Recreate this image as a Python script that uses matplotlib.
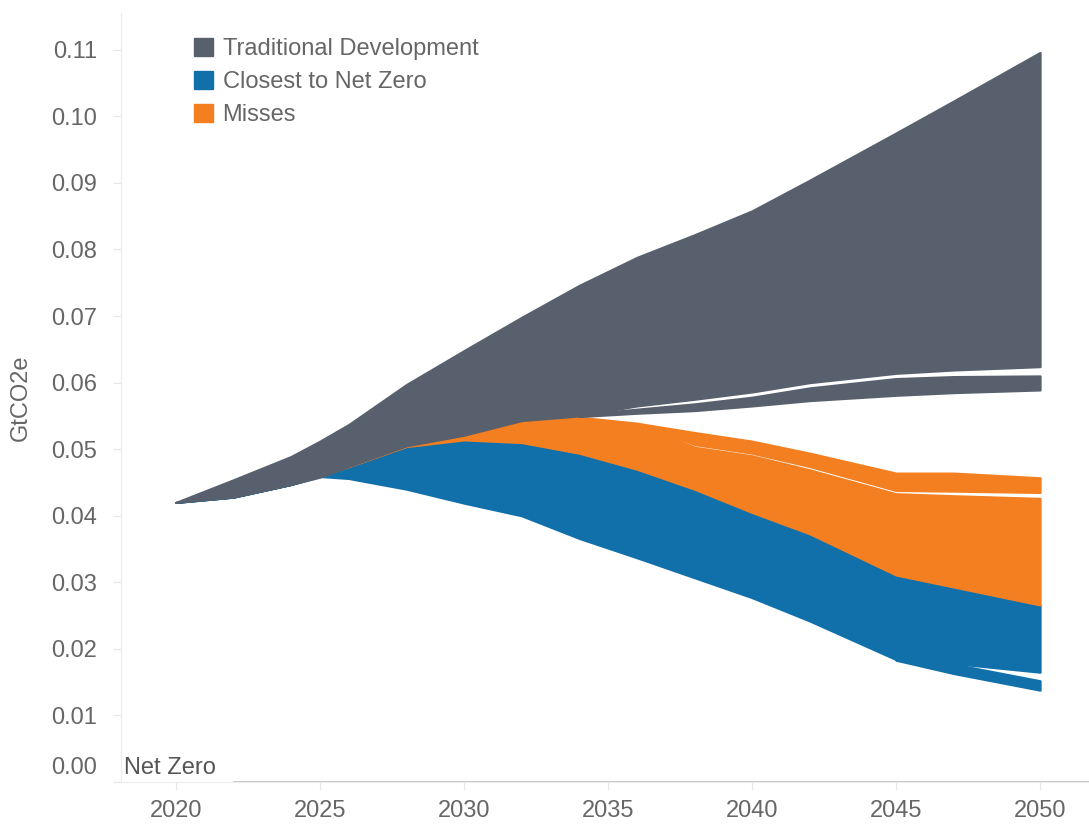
import numpy as np
import matplotlib
matplotlib.use("Agg")
import matplotlib.pyplot as plt
from matplotlib.patches import Patch

plt.rcParams['font.family'] = ['Liberation Sans', 'DejaVu Sans']

# --- data (GtCO2e) ---
nan = np.nan
YEARS = [2020, 2022, 2024, 2025, 2026, 2028, 2030, 2032, 2034, 2036, 2038, 2040, 2042, 2045, 2047, 2050]

# Traditional Development: main envelope + lower cluster of runs
trad_top = [.0420, .0454, .0489, .0512, .0537, .0597, .0648, .0698, .0746, .0788, .0822, .0858, .0904, .0975, .1023, .1096]
trad_bottom = [.0420, .0428, .0447, .0458, .0474, .0505, .0521, .0543, .0550, .0565, .0575, .0586, .0600, .0614, .0619, .0624]
trad_low_top = [nan] * 8 + [.0552, .0560, .0568, .0578, .0592, .0606, .0609, .0610]
trad_low_bottom = [nan] * 8 + [.0549, .0554, .0558, .0565, .0573, .0581, .0585, .0589]

# Closest to Net Zero
close_top = [.0420, .0428, .0447, .0460, .0474, .0504, .0514, .0510, .0494, .0470, .0440, .0405, .0373, .0311, .0293, .0266]
close_bottom = [.0420, .0428, .0447, .0459, .0456, .0440, .0419, .0400, .0366, .0337, .0307, .0277, .0242, .0184, .0178, .0165]
close_low_top = [nan] * 13 + [.0184, .0177, .0152]
close_low_bottom = [nan] * 13 + [.0183, .0163, .0138]

# Misses
miss_top = [nan] * 3 + [.0460, .0474, .0505, .0521, .0541, .0548, .0539, .0525, .0512, .0494, .0464, .0464, .0457]
miss_split_hi = [nan] * 9 + [.0539, .0507, .0494, .0474, .0438, .0437, .0435]
miss_split_lo = [nan] * 9 + [.0539, .0503, .0490, .0469, .0433, .0430, .0426]

YTICKS = [0.00, 0.01, 0.02, 0.03, 0.04, 0.05, 0.06, 0.07, 0.08, 0.09, 0.10, 0.11]
XTICKS = [2020, 2025, 2030, 2035, 2040, 2045, 2050]

GREY = '#57606c'
BLUE = '#1170aa'
ORANGE = '#f47f20'
TEXT = '#666666'
FS = 17


def band(ax, lo, hi, color):
    lo = np.array(lo, dtype=float)
    hi = np.array(hi, dtype=float)
    ok = ~np.isnan(lo) & ~np.isnan(hi)
    ax.fill_between(np.array(YEARS)[ok], lo[ok], hi[ok], facecolor=color,
                    edgecolor=color, linewidth=1.6, joinstyle='round')


fig = plt.figure(figsize=(10.89, 8.24), dpi=100)
ax = fig.add_axes([0.111, 0.051, 0.889, 0.933])

# blue first, then orange, grey on top
band(ax, close_bottom, close_top, BLUE)
band(ax, close_low_bottom, close_low_top, BLUE)

miss_main_top = [a if np.isnan(b) else b for a, b in zip(miss_top, miss_split_lo)]
band(ax, close_top, miss_main_top, ORANGE)
band(ax, miss_split_hi, miss_top, ORANGE)

band(ax, trad_bottom, trad_top, GREY)
band(ax, trad_low_bottom, trad_low_top, GREY)

ax.set_xlim(2018.09, 2051.7)
ax.set_ylim(0, 0.1155)

ax.set_yticks(YTICKS)
ax.set_yticklabels([''] + ['%.2f' % v for v in YTICKS[1:]])
ax.set_xticks(XTICKS)
ax.set_xticklabels([str(y) for y in XTICKS])
ax.tick_params(axis='y', length=6, color='#e6e6e6', labelcolor=TEXT, labelsize=FS, pad=11)
ax.tick_params(axis='x', length=6, color='#e6e6e6', labelcolor=TEXT, labelsize=FS, pad=7)

# 0.00 sits a little above its tick
ax.annotate('0.00', xy=(0, 0), xycoords=('axes fraction', 'data'),
            xytext=(-17, 2), textcoords='offset points', ha='right', va='bottom',
            color=TEXT, fontsize=FS, annotation_clip=False)

for s in ['top', 'right']:
    ax.spines[s].set_visible(False)
ax.spines['left'].set_color('#ececec')
ax.spines['bottom'].set_color('#ececec')

# net zero reference line
x0, x1 = ax.get_xlim()
ax.axhline(0, xmin=(2022 - x0) / (x1 - x0), xmax=1, color='#bdbdbd', lw=1.2, clip_on=False)
ax.text(2018.2, 0.0004, 'Net Zero', color='#555555', fontsize=FS, va='bottom', ha='left')

ax.set_ylabel('GtCO2e', color=TEXT, fontsize=FS, labelpad=14)

handles = [Patch(color=GREY), Patch(color=BLUE), Patch(color=ORANGE)]
ax.legend(handles, ['Traditional Development', 'Closest to Net Zero', 'Misses'],
          loc='upper left', bbox_to_anchor=(0.066, 0.98), frameon=False,
          fontsize=FS, labelcolor=TEXT, handlelength=0.8, handleheight=0.8,
          handletextpad=0.4, labelspacing=0.45, borderaxespad=0)

fig.savefig('out.png', dpi=100)
